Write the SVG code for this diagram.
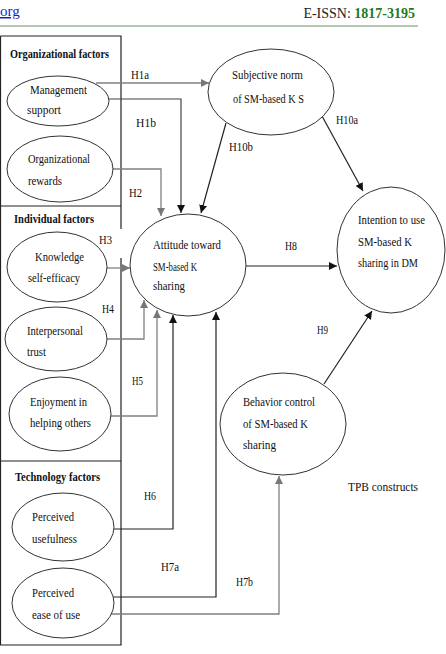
<svg xmlns="http://www.w3.org/2000/svg" width="446" height="654" viewBox="0 0 446 654">
<style>
.t{font-family:'Liberation Serif','Times New Roman',serif;font-size:13.5px;fill:#111}
.b{font-weight:bold}
.e{fill:#fff;stroke:#333;stroke-width:1}
.g{fill:none;stroke:#808080;stroke-width:1.3}
.k{fill:none;stroke:#222;stroke-width:1.2}
.box{fill:none;stroke:#222;stroke-width:1.2}
</style>
<defs>
<marker id="ak" viewBox="0 0 10 10" refX="10" refY="5" markerWidth="8" markerHeight="8" markerUnits="userSpaceOnUse" orient="auto"><path d="M0,0 L10,5 L0,10 z" fill="#111"/></marker>
<marker id="ag" viewBox="0 0 10 10" refX="10" refY="5" markerWidth="8" markerHeight="8" markerUnits="userSpaceOnUse" orient="auto"><path d="M0,0 L10,5 L0,10 z" fill="#777"/></marker>
</defs>
<rect width="446" height="654" fill="#fff"/>
<g id="header" font-family="Liberation Serif, Times New Roman, serif">
<text x="0" y="16" font-size="15" fill="#1a1acc" text-decoration="underline">org</text>
<text x="415" y="18" text-anchor="end" font-size="14" fill="#222">E-ISSN: <tspan font-weight="bold" fill="#1f7a1f">1817-3195</tspan></text>
<line x1="0" y1="26" x2="418" y2="26" stroke="#6b8e6b" stroke-width="1"/>
</g>
<g id="factor-boxes" font-family="Liberation Serif, Times New Roman, serif">
<path class="box" d="M0.5,36 H121 V229 M121,258 V645 H0.5 V36 M0.5,206 H121 M0.5,461 H121"/>
<text class="t b" x="10" y="58" textLength="99" lengthAdjust="spacingAndGlyphs">Organizational factors</text>
<text class="t b" x="14" y="223" textLength="80" lengthAdjust="spacingAndGlyphs">Individual factors</text>
<text class="t b" x="15" y="481" textLength="85" lengthAdjust="spacingAndGlyphs">Technology factors</text>
</g>
<g id="connectors">
<path class="g" d="M96,83 H209" marker-end="url(#ag)"/>
<path class="k" style="stroke:#444" d="M108,99 H181 V213" marker-end="url(#ak)"/>
<path class="g" d="M113,169 H161 V216" marker-end="url(#ag)"/>
<path class="k" d="M226,123 L201,213" marker-end="url(#ak)"/>
<path class="k" d="M322,116 L363,191" marker-end="url(#ak)"/>
<path class="g" d="M107,268 H130" marker-end="url(#ag)"/>
<path class="g" d="M107,339 H144 V300" marker-end="url(#ag)"/>
<path class="g" d="M111,416 H157 V310" marker-end="url(#ag)"/>
<path class="k" d="M114,529 H173 V315" marker-end="url(#ak)"/>
<path class="k" d="M113,597 H216 V312" marker-end="url(#ak)"/>
<path class="g" d="M111,614 H279 V476" marker-end="url(#ag)"/>
<path class="k" d="M246,266 H337" marker-end="url(#ak)"/>
<path class="k" d="M324,384 L372,311" marker-end="url(#ak)"/>
</g>
<g id="labels" font-family="Liberation Serif, Times New Roman, serif">
<text class="t" x="131" y="79" textLength="18" lengthAdjust="spacingAndGlyphs">H1a</text>
<text class="t" x="136" y="127" textLength="20" lengthAdjust="spacingAndGlyphs">H1b</text>
<text class="t" x="129" y="197" textLength="13" lengthAdjust="spacingAndGlyphs">H2</text>
<text class="t" x="229" y="151" textLength="24" lengthAdjust="spacingAndGlyphs">H10b</text>
<text class="t" x="336" y="124" textLength="22" lengthAdjust="spacingAndGlyphs">H10a</text>
<text class="t" x="99" y="244" textLength="13" lengthAdjust="spacingAndGlyphs">H3</text>
<text class="t" x="102" y="313" textLength="12" lengthAdjust="spacingAndGlyphs">H4</text>
<text class="t" x="132" y="385" textLength="11" lengthAdjust="spacingAndGlyphs">H5</text>
<text class="t" x="144" y="500" textLength="12" lengthAdjust="spacingAndGlyphs">H6</text>
<text class="t" x="285" y="250" textLength="12" lengthAdjust="spacingAndGlyphs">H8</text>
<text class="t" x="317" y="334" textLength="11" lengthAdjust="spacingAndGlyphs">H9</text>
<text class="t" x="161" y="571" textLength="18" lengthAdjust="spacingAndGlyphs">H7a</text>
<text class="t" x="236" y="586" textLength="17" lengthAdjust="spacingAndGlyphs">H7b</text>
<text class="t" x="348" y="491" textLength="70" lengthAdjust="spacingAndGlyphs">TPB constructs</text>
</g>
<g id="management-support" font-family="Liberation Serif, Times New Roman, serif">
<ellipse class="e" cx="58" cy="101" rx="51" ry="25"/>
<text class="t" x="30" y="94" textLength="57" lengthAdjust="spacingAndGlyphs">Management</text>
<text class="t" x="27" y="114" textLength="34" lengthAdjust="spacingAndGlyphs">support</text>
</g>
<g id="organizational-rewards" font-family="Liberation Serif, Times New Roman, serif">
<ellipse class="e" cx="60" cy="169" rx="53" ry="33"/>
<text class="t" x="28" y="163" textLength="62" lengthAdjust="spacingAndGlyphs">Organizational</text>
<text class="t" x="28" y="185" textLength="34" lengthAdjust="spacingAndGlyphs">rewards</text>
</g>
<g id="knowledge-self-efficacy" font-family="Liberation Serif, Times New Roman, serif">
<ellipse class="e" cx="57" cy="267" rx="50" ry="35"/>
<text class="t" x="35" y="261" textLength="49" lengthAdjust="spacingAndGlyphs">Knowledge</text>
<text class="t" x="28" y="282" textLength="52" lengthAdjust="spacingAndGlyphs">self-efficacy</text>
</g>
<g id="interpersonal-trust" font-family="Liberation Serif, Times New Roman, serif">
<ellipse class="e" cx="56" cy="339" rx="51" ry="32"/>
<text class="t" x="27" y="335" textLength="56" lengthAdjust="spacingAndGlyphs">Interpersonal</text>
<text class="t" x="27" y="356" textLength="19" lengthAdjust="spacingAndGlyphs">trust</text>
</g>
<g id="enjoyment" font-family="Liberation Serif, Times New Roman, serif">
<ellipse class="e" cx="60" cy="414" rx="51" ry="37"/>
<text class="t" x="30" y="406" textLength="57" lengthAdjust="spacingAndGlyphs">Enjoyment in</text>
<text class="t" x="30" y="427" textLength="61" lengthAdjust="spacingAndGlyphs">helping others</text>
</g>
<g id="perceived-usefulness" font-family="Liberation Serif, Times New Roman, serif">
<ellipse class="e" cx="63" cy="527" rx="51" ry="34"/>
<text class="t" x="32" y="521" textLength="42" lengthAdjust="spacingAndGlyphs">Perceived</text>
<text class="t" x="32" y="543" textLength="45" lengthAdjust="spacingAndGlyphs">usefulness</text>
</g>
<g id="perceived-ease-of-use" font-family="Liberation Serif, Times New Roman, serif">
<ellipse class="e" cx="63" cy="603" rx="51" ry="35"/>
<text class="t" x="32" y="597" textLength="42" lengthAdjust="spacingAndGlyphs">Perceived</text>
<text class="t" x="32" y="619" textLength="48" lengthAdjust="spacingAndGlyphs">ease of use</text>
</g>
<g id="subjective-norm" font-family="Liberation Serif, Times New Roman, serif">
<ellipse class="e" cx="271" cy="92" rx="63" ry="43"/>
<text class="t" x="232" y="79" textLength="71" lengthAdjust="spacingAndGlyphs">Subjective norm</text>
<text class="t" x="233" y="103" textLength="71" lengthAdjust="spacingAndGlyphs">of SM-based K S</text>
</g>
<g id="attitude" font-family="Liberation Serif, Times New Roman, serif">
<ellipse class="e" cx="188" cy="265" rx="58" ry="51"/>
<text class="t" x="153" y="249" textLength="68" lengthAdjust="spacingAndGlyphs">Attitude toward</text>
<text class="t" x="153" y="271" textLength="44" lengthAdjust="spacingAndGlyphs">SM-based K</text>
<text class="t" x="153" y="290" textLength="32" lengthAdjust="spacingAndGlyphs">sharing</text>
</g>
<g id="intention" font-family="Liberation Serif, Times New Roman, serif">
<ellipse class="e" cx="391" cy="250" rx="54" ry="63"/>
<text class="t" x="358" y="224" textLength="67" lengthAdjust="spacingAndGlyphs">Intention to use</text>
<text class="t" x="358" y="246" textLength="54" lengthAdjust="spacingAndGlyphs">SM-based K</text>
<text class="t" x="358" y="267" textLength="60" lengthAdjust="spacingAndGlyphs">sharing in DM</text>
</g>
<g id="behavior-control" font-family="Liberation Serif, Times New Roman, serif">
<ellipse class="e" cx="283" cy="424" rx="63" ry="51"/>
<text class="t" x="243" y="406" textLength="72" lengthAdjust="spacingAndGlyphs">Behavior control</text>
<text class="t" x="243" y="428" textLength="65" lengthAdjust="spacingAndGlyphs">of SM-based K</text>
<text class="t" x="243" y="449" textLength="33" lengthAdjust="spacingAndGlyphs">sharing</text>
</g>
</svg>
